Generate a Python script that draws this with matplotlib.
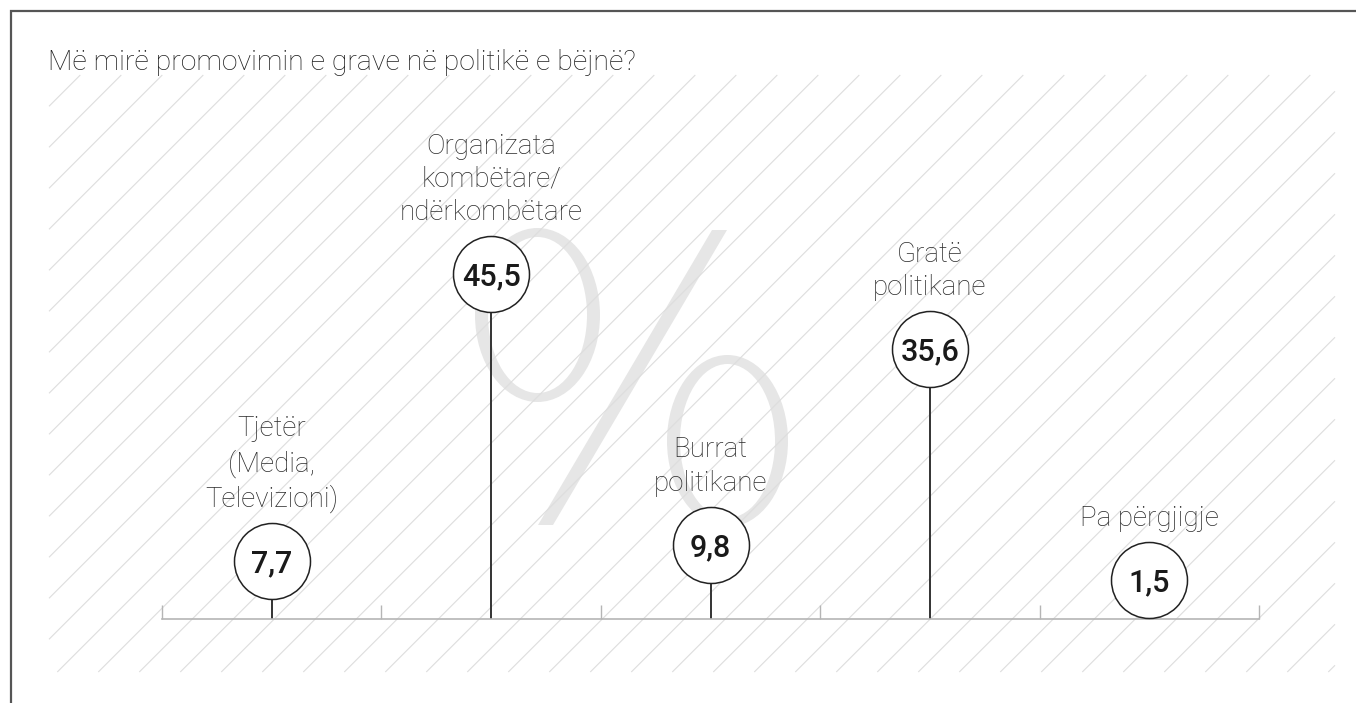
import matplotlib
matplotlib.use("Agg")
import matplotlib.pyplot as plt
from matplotlib.patches import Ellipse, Polygon
from matplotlib.collections import LineCollection
import numpy as np

# ---- data ----
title = "Më mirë promovimin e grave në politikë e bëjnë?"
categories = ["Tjetër\n(Media,\nTelevizioni)",
              "Organizata\nkombëtare/\nndërkombëtare",
              "Burrat\npolitikane",
              "Gratë\npolitikane",
              "Pa përgjigje"]
values = [7.7, 45.5, 9.8, 35.6, 1.5]
value_labels = ["7,7", "45,5", "9,8", "35,6", "1,5"]

W, H = 1356, 703
DPI = 100
fig = plt.figure(figsize=(W / DPI, H / DPI), dpi=DPI)
fig.patch.set_facecolor("white")

# ---- background decoration (pixel coordinates) ----
bg = fig.add_axes([0, 0, 1, 1], zorder=0)
bg.set_xlim(0, W)
bg.set_ylim(H, 0)
bg.axis("off")

# frame lines
bg.plot([11, 11, W + 5], [H + 5, 11, 11], color="#555555", lw=1.6,
        solid_joinstyle="miter", clip_on=False, zorder=3)

# big "%" watermark built from two rings and a slash
pct_grey = "#e6e6e6"
for cx, cy, w, h in [(537.5, 315, 125, 174), (727.5, 441, 121, 172)]:
    bg.add_patch(Ellipse((cx, cy), w, h, facecolor=pct_grey,
                         edgecolor="none", zorder=1))
    bg.add_patch(Ellipse((cx, cy), w - 26, h - 18, facecolor="white",
                         edgecolor="none", zorder=1.1))
bg.add_patch(Polygon([(712, 230), (727, 230), (553, 525), (538, 525)],
                     closed=True, facecolor=pct_grey, edgecolor="none",
                     zorder=1.2))

# hatch (clipped manually to its rectangle)
hx0, hx1, hy0, hy1 = 49, 1335, 75, 672
spacing = 41
c0 = 729.3
segs = []
for c in np.arange(c0 - 60 * spacing, c0 + 60 * spacing, spacing):
    # line: y = c - x
    xa = max(hx0, c - hy1)
    xb = min(hx1, c - hy0)
    if xb > xa:
        segs.append([(xa, c - xa), (xb, c - xb)])
lc = LineCollection(segs, colors="#dddddd", linewidths=0.8, zorder=2)
bg.add_collection(lc)

# title
bg.text(48, 70, title, fontsize=20.5, family="Roboto", weight="light",
        color="#1e1e1e", ha="left", va="baseline", zorder=4)

# ---- main chart ----
px_per_unit = 7.58
ax_left, ax_right, ax_bottom_px, ax_top_px = 162, 1259, 619, 80
ax = fig.add_axes([ax_left / W, (H - ax_bottom_px) / H,
                   (ax_right - ax_left) / W, (ax_bottom_px - ax_top_px) / H],
                  zorder=1)
ax.patch.set_alpha(0)
ax.set_xlim(0, len(categories))
ax.set_ylim(0, (ax_bottom_px - ax_top_px) / px_per_unit)
for s in ["top", "right", "left"]:
    ax.spines[s].set_visible(False)
ax.spines["bottom"].set_color("#b5b5b5")
ax.spines["bottom"].set_linewidth(1.2)
ax.set_xticks(np.arange(len(categories) + 1))
ax.set_xticklabels([])
ax.set_yticks([])
ax.tick_params(axis="x", direction="in", length=10, width=1.0,
               color="#b5b5b5")

r_px = 38
r_units = r_px / px_per_unit
xs = np.arange(len(values)) + 0.5
centers = [max(v, r_units + 0.1) for v in values]

ax.vlines(xs, 0, centers, color="#333333", lw=1.4, zorder=2)
s = (2 * r_px * 72 / DPI) ** 2
ax.scatter(xs, centers, s=s, facecolor="white", edgecolor="#222222",
           linewidths=1.1, zorder=3)
for x, c, lab in zip(xs, centers, value_labels):
    ax.text(x, c, lab, ha="center", va="center_baseline", fontsize=22,
            family="Roboto", weight="medium", color="#1a1a1a", zorder=4)
for x, c, cat in zip(xs, centers, categories):
    ax.annotate(cat, (x, c), xytext=(0, (r_px + 10) * 72 / DPI),
                textcoords="offset points", ha="center", va="bottom",
                fontsize=20, family="Roboto", weight="light",
                color="#2a2a2a", linespacing=1.3, multialignment="center",
                zorder=4)

fig.savefig("out.png", dpi=DPI, facecolor="white")
